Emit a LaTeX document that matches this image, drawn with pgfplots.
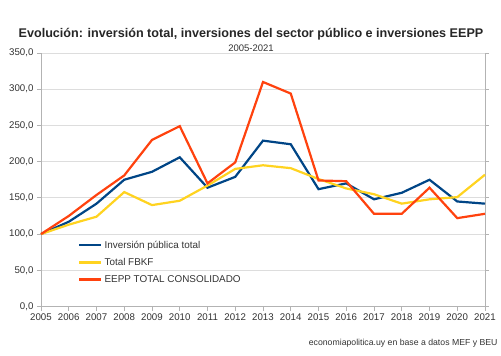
\documentclass[border=0pt]{standalone}
\usepackage{pgfplots}
\pgfplotsset{compat=1.18}
\usepackage{fontspec}
\setmainfont{Liberation Sans}
\definecolor{lblue}{HTML}{004586}
\definecolor{lyellow}{HTML}{FFD320}
\definecolor{lred}{HTML}{FF420E}
\definecolor{gridc}{HTML}{DDDDDD}
\definecolor{axc}{HTML}{B3B3B3}
\definecolor{txt}{HTML}{333333}
\begin{document}
\begin{tikzpicture}
\useasboundingbox (-41bp,-49.5bp) rectangle (460bp,306.5bp);
\begin{axis}[
  at={(0,0)}, anchor=origin,
  scale only axis, width=444bp, height=253.5bp,
  xmin=2005, xmax=2021, ymin=0, ymax=350,
  xtick={2005,...,2021}, ytick={0,50,...,350},
  /pgf/number format/.cd, fixed, fixed zerofill, precision=1, use comma, 1000 sep={}, assume math mode=true,
  /pgfplots/.cd,
  xticklabel={\pgfmathprintnumber[fixed,precision=0,1000 sep={}]{\tick}},
  ticklabel style={font=\fontsize{9.7bp}{11bp}\selectfont, text=txt},
  axis line style={axc, line width=0.8bp},
  axis x line*=bottom, axis y line*=box,
  tick style={axc, line width=0.8bp},
  tick align=outside, major tick length=4bp,
  ymajorgrids, grid style={gridc, line width=0.8bp},
  legend style={draw=none, fill=none, at={(rel axis cs:0.077,0.275)}, anchor=north west,
    font=\fontsize{9.9bp}{11bp}\selectfont, text=txt, row sep=4.5bp,
    /tikz/every even column/.append style={column sep=1bp}},
  legend cell align=left,
  legend image code/.code={\draw[#1, line width=2.2bp] (0bp,0bp) -- (22bp,0bp);},
  clip=false,
]
\addplot[lblue, line width=2.2bp] coordinates {
(2005,100) (2006,117) (2007,142) (2008,175) (2009,186) (2010,206) (2011,164) (2012,179)
(2013,229) (2014,224) (2015,162) (2016,170) (2017,148) (2018,157) (2019,175) (2020,145) (2021,142)};
\addlegendentry{Inversión pública total}
\addplot[lyellow, line width=2.2bp] coordinates {
(2005,100) (2006,113) (2007,124) (2008,158) (2009,140) (2010,146) (2011,167) (2012,190)
(2013,195) (2014,191) (2015,176) (2016,163) (2017,155) (2018,142) (2019,148) (2020,151) (2021,182)};
\addlegendentry{Total FBKF}
\addplot[lred, line width=2.2bp] coordinates {
(2005,100) (2006,125) (2007,154) (2008,181) (2009,230) (2010,249) (2011,170) (2012,199)
(2013,310) (2014,294) (2015,174) (2016,173) (2017,128) (2018,128) (2019,164) (2020,122) (2021,128)};
\addlegendentry{EEPP TOTAL CONSOLIDADO}
\end{axis}
\node[font=\bfseries\fontsize{12.6bp}{14bp}\selectfont, text=black!85] at (210bp,272.5bp) {Evolución: inversión total, inversiones del sector público e inversiones EEPP};
\node[font=\fontsize{9.5bp}{11bp}\selectfont, text=txt] at (210bp,258bp) {2005-2021};
\node[font=\fontsize{8.7bp}{10bp}\selectfont, text=txt, anchor=east] at (460bp,-36.5bp) {economiapolitica.uy en base a datos MEF y BEU};
\end{tikzpicture}
\end{document}
